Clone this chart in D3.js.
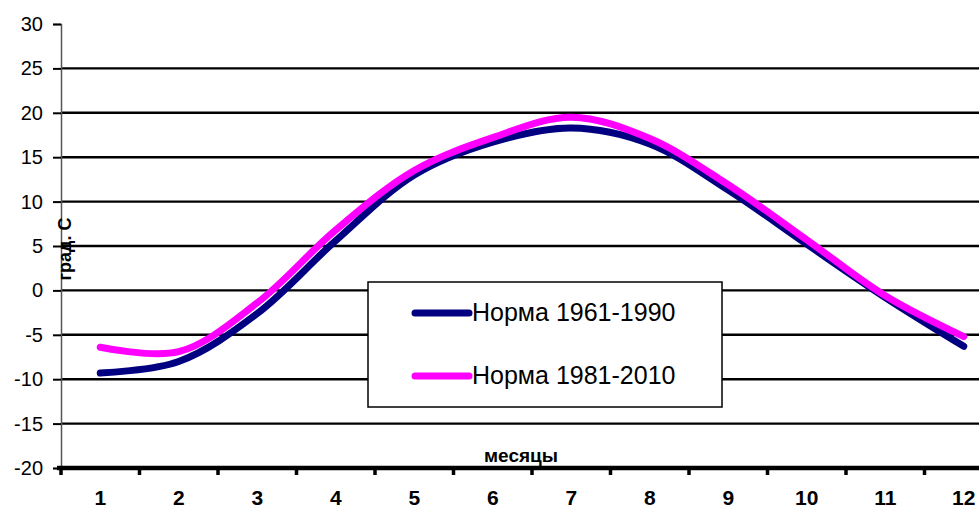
<!DOCTYPE html>
<html>
<head>
<meta charset="utf-8">
<style>
  body { margin: 0; background: #fff; }
  svg { display: block; font-family: Arial, "Liberation Sans", sans-serif; }
</style>
</head>
<body>
<svg id="chart" width="979" height="511"></svg>
<script src="https://cdn.jsdelivr.net/npm/d3@7"></script>
<script>
  // data
  const months = [1, 2, 3, 4, 5, 6, 7, 8, 9, 10, 11, 12]
  const norm1961 = [-9.3, -8.0, -2.6, 5.6, 13.0, 16.7, 18.3, 16.5, 11.3, 5.2, -0.8, -6.3]
  const norm1981 = [-6.4, -6.9, -1.4, 6.8, 13.5, 17.2, 19.5, 17.1, 11.9, 5.7, -0.6, -5.2]
  const yTicks = [-20, -15, -10, -5, 0, 5, 10, 15, 20, 25, 30]
  const seriesNames = ["Норма 1961-1990", "Норма 1981-2010"]
  const seriesColors = ["#000080", "#ff00ff"]

  const svg = d3.select("#chart")
  const plotLeft = 61, plotRight = 1003, plotTop = 24, plotBottom = 468

  const x = d3.scaleBand().domain(months).range([plotLeft, plotRight])
  const y = d3.scaleLinear().domain([-20, 30]).range([plotBottom, plotTop])

  // gridlines
  svg.append("g")
    .selectAll("line")
    .data(yTicks.filter(d => d > -20 && d < 30))
    .join("line")
    .attr("x1", plotLeft).attr("x2", 979)
    .attr("y1", d => y(d)).attr("y2", d => y(d))
    .attr("stroke", "#000").attr("stroke-width", 2.4)

  // y axis
  const yAxis = svg.append("g")
    .attr("transform", `translate(${plotLeft},0)`)
    .call(d3.axisLeft(y).tickValues(yTicks).tickSize(8).tickPadding(10))
  yAxis.select(".domain").attr("stroke", "#555").attr("stroke-width", 1.5)
  yAxis.selectAll(".tick line").attr("stroke", "#000").attr("stroke-width", 2)
  yAxis.selectAll(".tick text")
    .attr("font-size", 20).attr("fill", "#000")
    .text(d => d < 0 ? "-" + Math.abs(d) : d)

  // x axis
  const xAxis = svg.append("g")
    .attr("transform", `translate(0,${plotBottom})`)
  xAxis.append("line")
    .attr("x1", plotLeft - 4).attr("x2", 979)
    .attr("stroke", "#000").attr("stroke-width", 4.5)
  xAxis.selectAll(".xt")
    .data(months)
    .join("line")
    .attr("class", "xt")
    .attr("x1", d => x(d)).attr("x2", d => x(d))
    .attr("y1", 0).attr("y2", 7)
    .attr("stroke", "#000").attr("stroke-width", 3.5)
  xAxis.selectAll("text")
    .data(months)
    .join("text")
    .attr("x", d => x(d) + x.bandwidth() / 2)
    .attr("y", 37)
    .attr("text-anchor", "middle")
    .attr("font-size", 21).attr("font-weight", "bold")
    .text(d => d)

  // axis titles
  svg.append("text")
    .attr("transform", "translate(71,249) rotate(-90)")
    .attr("text-anchor", "middle")
    .attr("font-size", 18).attr("font-weight", "bold")
    .text("град. С")
  svg.append("text")
    .attr("x", 521).attr("y", 462)
    .attr("text-anchor", "middle")
    .attr("font-size", 19).attr("font-weight", "bold")
    .text("месяцы")

  // lines
  const line = d3.line()
    .x((d, i) => x(months[i]) + x.bandwidth() / 2)
    .y(d => y(d))
    .curve(d3.curveCatmullRom.alpha(0.5))

  ;[norm1961, norm1981].forEach((s, i) => {
    svg.append("path")
      .datum(s)
      .attr("d", line)
      .attr("fill", "none")
      .attr("stroke", seriesColors[i])
      .attr("stroke-width", 7)
      .attr("stroke-linecap", "round")
      .attr("stroke-linejoin", "round")
  })

  // legend
  const legend = svg.append("g")
  legend.append("rect")
    .attr("x", 368).attr("y", 282).attr("width", 354).attr("height", 125)
    .attr("fill", "#fff").attr("stroke", "#000").attr("stroke-width", 1.5)
  seriesNames.forEach((name, i) => {
    const ly = 313 + i * 63
    legend.append("line")
      .attr("x1", 415).attr("x2", 469)
      .attr("y1", ly).attr("y2", ly)
      .attr("stroke", seriesColors[i]).attr("stroke-width", 7)
      .attr("stroke-linecap", "round")
    legend.append("text")
      .attr("x", 472).attr("y", ly + 8)
      .attr("font-size", 25)
      .text(name)
  })
</script>
</body>
</html>
